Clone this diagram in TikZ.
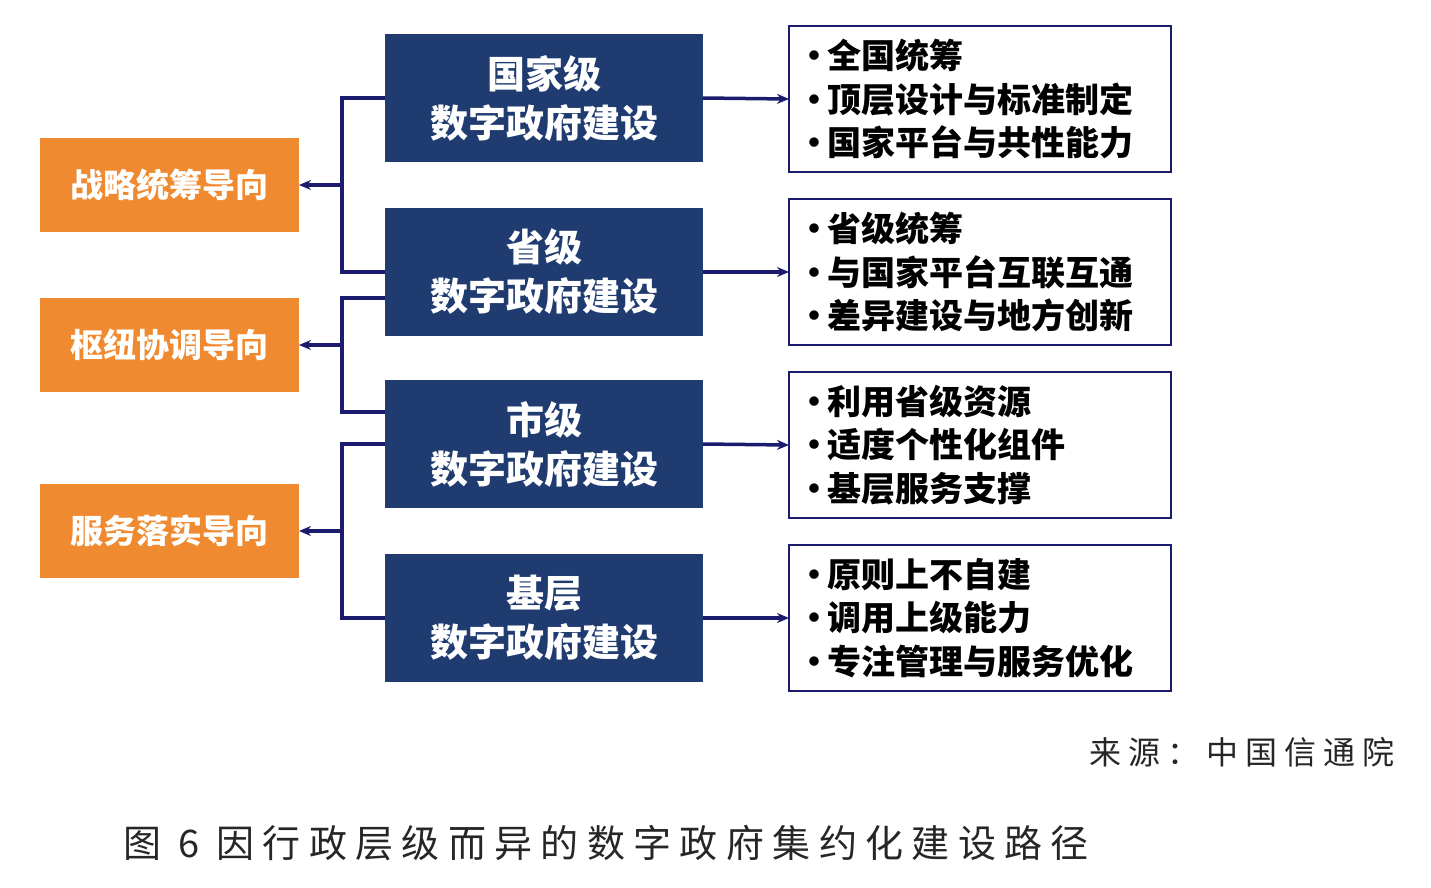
\documentclass[tikz,border=0pt]{standalone}
\usepackage{fontspec}
\setmainfont{Noto Sans CJK SC}
\newfontfamily\cjkw{Noto Sans CJK SC}[LetterSpace=22]
\usetikzlibrary{arrows.meta}
\definecolor{navy}{HTML}{1F3B70}
\definecolor{org}{HTML}{F08A30}
\definecolor{lnk}{HTML}{1C1C6E}
\begin{document}
\begin{tikzpicture}[x=1pt,y=-1pt,
 ob/.style={text=white,font=\fontsize{33}{36}\selectfont\bfseries,anchor=center},
 bb/.style={text=white,align=center,font=\fontsize{38}{49}\selectfont\bfseries},
 ln/.style={draw=lnk,line width=3.5pt},
 ar/.style={ln,-{Stealth[length=12pt,width=10pt]}}]
\useasboundingbox (0,0) rectangle (1431,887);
\foreach \n/\y/\t in {o1/185/战略统筹导向,o2/345/枢纽协调导向,o3/531/服务落实导向}{
 \fill[org] (40,\y-47) rectangle (299,\y+47);
 \node[ob] (\n) at (169,\y) {\t};
 \coordinate (\n r) at (299,\y);}
\foreach \n/\y/\t in {b1/98/国家级,b2/272/省级,b3/444/市级,b4/618/基层}{
 \fill[navy] (385,\y-64) rectangle (703,\y+64);
 \node[bb] (\n) at (544,\y) {\t\\数字政府建设};
 \coordinate (\n l) at (385,\y); \coordinate (\n r) at (703,\y);}
\foreach \n/\y/\a/\b/\c in {r1/99/全国统筹/顶层设计与标准制定/国家平台与共性能力,r2/272/省级统筹/与国家平台互联互通/差异建设与地方创新,r3/445/利用省级资源/适度个性化组件/基层服务支撑,r4/618/原则上不自建/调用上级能力/专注管理与服务优化}{
 \draw[lnk,line width=2.5pt] (789,\y-73) rectangle (1171,\y+73);
 \node[anchor=west,align=left,font=\fontsize{34}{43.5}\selectfont\bfseries,inner sep=0] (\n) at (797,\y) {·\hspace{-4pt}\a\\·\hspace{-4pt}\b\\·\hspace{-4pt}\c};
 \coordinate (\n l) at (789,\y);}
\foreach \i in {1,2,3,4}{\draw[ar] (b\i r) -- (r\i l);}
\coordinate (j1) at (342,185); \coordinate (j2) at (342,345); \coordinate (j3) at (342,531);
\draw[ln] (b1l) -| (342,272) -- (385,272);
\draw[ln] (385,298) -| (342,412) -- (385,412);
\draw[ln] (385,444) -| (342,618) -- (b4l);
\draw[ar] (j1) -- (o1r); \draw[ar] (j2) -- (o2r); \draw[ar] (j3) -- (o3r);
\node[anchor=east,font=\cjkw\fontsize{32}{36}\selectfont,text=black!85] (src) at (1398,752) {来源：中国信通院};
\node[anchor=west,font=\cjkw\fontsize{38}{42}\selectfont,text=black!85] (cap) at (120,843) {图 6 因行政层级而异的数字政府集约化建设路径};
\end{tikzpicture}
\end{document}
